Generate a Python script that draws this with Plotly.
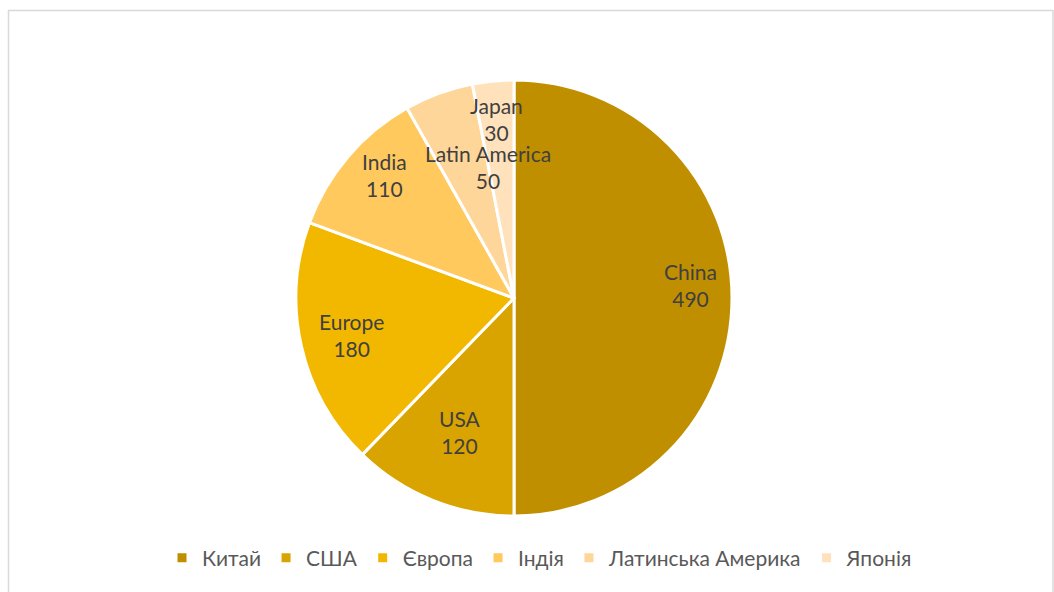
import math
import plotly.graph_objects as go

regions_en = ["China", "USA", "Europe", "India", "Latin America", "Japan"]
regions_uk = ["Китай", "США", "Європа", "Індія", "Латинська Америка", "Японія"]
values = [490, 120, 180, 110, 50, 30]
colors = ["#BF8F00", "#D9A300", "#F2B800", "#FFC95E", "#FFD699", "#FFE2BC"]
# data-label placement (Excel best-fit look): radius fraction and angular nudge in degrees
label_radius = [0.81, 0.665, 0.765, 0.818, 0.613, 0.825]
label_nudge = [-4.2, 0.0, 0.0, 3.2, 9.0, 0.0]

W, H = 1054, 592
cx, cy, r = 514, 298, 218
FONT = "Lato, Carlito, Calibri, sans-serif"

fig = go.Figure(go.Pie(
    labels=regions_uk,
    values=values,
    textinfo="none",
    marker=dict(colors=colors, line=dict(color="white", width=3)),
    sort=False,
    direction="clockwise",
    rotation=0,
    hoverinfo="label+value",
    domain=dict(x=[(cx - r) / W, (cx + r) / W], y=[(H - cy - r) / H, (H - cy + r) / H]),
))

total = sum(values)
cum = 0
annotations = []
for name, v, rf, nd in zip(regions_en, values, label_radius, label_nudge):
    mid = (cum + v / 2) / total * 2 * math.pi + math.radians(nd)
    cum += v
    px = cx + rf * r * math.sin(mid)
    py = (H - cy) + rf * r * math.cos(mid)
    annotations.append(dict(
        x=px / W, y=py / H, xref="paper", yref="paper",
        text=f"{name}<br>{v}", showarrow=False,
        xanchor="center", yanchor="middle", align="center",
        font=dict(family=FONT, size=21, color="#404040"),
    ))

fig.update_layout(
    width=W, height=H,
    margin=dict(l=0, r=0, t=0, b=0),
    paper_bgcolor="white",
    font=dict(family=FONT, color="#595959"),
    showlegend=True,
    legend=dict(
        orientation="h", x=0.5 + 13 / W, xanchor="center", y=(H - 558) / H, yanchor="middle",
        font=dict(size=21, color="#595959"), itemwidth=30, traceorder="normal",
    ),
    annotations=annotations,
    shapes=[dict(type="rect", xref="paper", yref="paper",
                 x0=8.5 / W, x1=1053 / W, y0=-0.05, y1=(H - 10.5) / H,
                 line=dict(color="#D9D9D9", width=1.5), fillcolor="rgba(0,0,0,0)")],
)

fig.write_html("out.html")
